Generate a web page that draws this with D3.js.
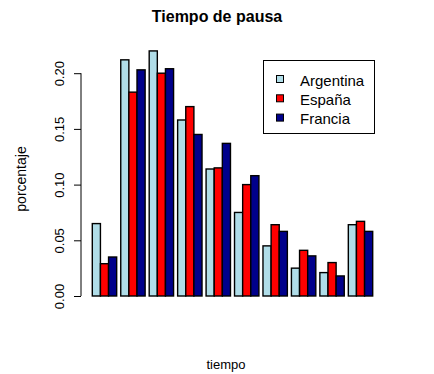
<!DOCTYPE html>
<html>
<head>
<meta charset="utf-8">
<script src="https://cdn.jsdelivr.net/npm/d3@7"></script>
<style>
  html, body { margin: 0; padding: 0; background: #ffffff; }
  svg { display: block; }
  text { font-family: "Liberation Sans", Arial, Helvetica, sans-serif; fill: #000; }
</style>
</head>
<body>
<svg id="chart" width="434" height="374"></svg>
<script>
// ---- data ----
const categories = ["1", "2", "3", "4", "5", "6", "7", "8", "9", "10"];
const seriesNames = ["Argentina", "España", "Francia"];
const argentina = [0.065, 0.212, 0.220, 0.158, 0.114, 0.075, 0.045, 0.025, 0.021, 0.064];
const espana    = [0.029, 0.183, 0.200, 0.170, 0.115, 0.100, 0.064, 0.041, 0.030, 0.067];
const francia   = [0.035, 0.203, 0.204, 0.145, 0.137, 0.108, 0.058, 0.036, 0.018, 0.058];
const seriesColors = ["#b0dde8", "#ff0000", "#00008b"];
const yTicks = [0.00, 0.05, 0.10, 0.15, 0.20];
const title = "Tiempo de pausa";
const xLabel = "tiempo";
const yLabel = "porcentaje";

const seriesValues = [argentina, espana, francia];

const svg = d3.select("#chart");

// bar layout in R barplot units: each bar 1 unit, 0.5 space before each group
const barSpace = 0.5;
const nSeries = seriesNames.length;
const groupWidth = nSeries + barSpace;
const xUnits = d3.scaleLinear()
  .domain([barSpace, categories.length * groupWidth])
  .range([92.3, 372.7]);
const y = d3.scaleLinear().domain([0, 0.20]).range([296, 73.2]);

const bars = [];
categories.forEach((c, i) => {
  seriesValues.forEach((vals, j) => {
    bars.push({ cat: c, s: j, v: vals[i], left: barSpace + i * groupWidth + j });
  });
});

svg.append("g").selectAll("rect").data(bars).enter().append("rect")
  .attr("x", d => xUnits(d.left))
  .attr("y", d => y(d.v))
  .attr("width", d => xUnits(d.left + 1) - xUnits(d.left))
  .attr("height", d => y(0) - y(d.v))
  .attr("fill", d => seriesColors[d.s])
  .attr("stroke", "#000")
  .attr("stroke-width", 1.4);

// y axis
const yAxis = d3.axisLeft(y).tickValues(yTicks).tickFormat(d3.format(".2f")).tickSize(7);
const ag = svg.append("g").attr("transform", "translate(81,0)").call(yAxis);
ag.select(".domain").attr("stroke", "#000").attr("fill", "none").attr("d", `M0,${y(0)}V${y(0.20)}`);
ag.selectAll(".tick line").attr("stroke", "#000");
ag.selectAll(".tick text")
  .attr("font-family", "Liberation Sans, Arial, sans-serif")
  .attr("font-size", 13)
  .attr("fill", "#000")
  .attr("x", null)
  .attr("y", 0)
  .attr("dy", 0)
  .attr("text-anchor", "middle")
  .attr("transform", "translate(-17,0) rotate(-90)");

// title and labels
svg.append("text").attr("x", 217).attr("y", 22).attr("text-anchor", "middle")
  .attr("font-size", 16).attr("font-weight", "bold").text(title);
svg.append("text").attr("x", 226).attr("y", 369).attr("text-anchor", "middle")
  .attr("font-size", 13).text(xLabel);
svg.append("text").attr("transform", "translate(26,179) rotate(-90)").attr("text-anchor", "middle")
  .attr("font-size", 14).text(yLabel);

// legend
const lg = svg.append("g");
lg.append("rect").attr("x", 263.5).attr("y", 60.5).attr("width", 111).attr("height", 73)
  .attr("fill", "#fff").attr("stroke", "#000").attr("stroke-width", 1);
seriesNames.forEach((n, j) => {
  const cy = 79 + j * 19.3;
  lg.append("rect").attr("x", 276.5).attr("y", cy - 3.5).attr("width", 7).attr("height", 7)
    .attr("fill", seriesColors[j]).attr("stroke", "#000").attr("stroke-width", 1);
  lg.append("text").attr("x", 300).attr("y", cy + 6.5).attr("font-size", 15).text(n);
});
</script>
</body>
</html>
